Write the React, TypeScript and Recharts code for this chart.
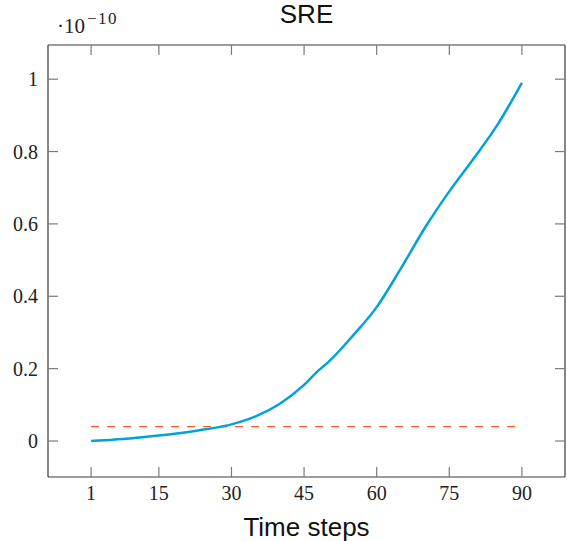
import { LineChart, Line, XAxis, YAxis, Label } from 'recharts';

const STEPS = [1, 5, 10, 15, 20, 25, 30, 35, 40, 45, 48, 50, 55, 60, 65, 70, 75, 80, 85, 90];
const SRE = [0, 0.003, 0.008, 0.015, 0.023, 0.033, 0.046, 0.068, 0.103, 0.155, 0.195, 0.218, 0.29, 0.37, 0.477, 0.59, 0.69, 0.78, 0.875, 0.99];
const THRESHOLD_STEPS = [1, 90];
const THRESHOLD_VALUES = [0.04, 0.04];
const X_TICKS = [1, 15, 30, 45, 60, 75, 90];
const Y_TICKS = [0, 0.2, 0.4, 0.6, 0.8, 1];

const AXIS_COLOR = '#3a3a3a';
const TICK_COLOR = '#7a7a7a';
const SERIF = '"Liberation Serif", "DejaVu Serif", serif';
const SANS = '"Liberation Sans", Arial, sans-serif';
const X_DOMAIN = [-7.9, 98.9];
const Y_DOMAIN = [-0.0995, 1.0945];

const data = STEPS.map((step, i) => ({ step, sre: SRE[i] }));
const thresholdData = THRESHOLD_STEPS.map((step, i) => ({ step, limit: THRESHOLD_VALUES[i] }));

// tick lines come from recharts (negative tickSize = inward), these only draw the labels
function BottomTick({ x, y, payload }: any) {
    return (
        <text x={x} y={y + 23} textAnchor="middle" fontFamily={SERIF} fontSize={20} fill="#222">
            {payload.value}
        </text>
    );
}

function LeftTick({ x, y, payload }: any) {
    return (
        <text x={x - 10} y={y + 7} textAnchor="end" fontFamily={SERIF} fontSize={20} fill="#222">
            {String(payload.value)}
        </text>
    );
}

function NoLabel() {
    return <g />;
}

const tickLine = { stroke: TICK_COLOR, strokeWidth: 1.2 };
const axisLine = { stroke: AXIS_COLOR, strokeWidth: 1.2 };

export default function App() {
    return (
        <div style={{ position: 'absolute', left: 0, top: 0, background: '#fff' }}>
            <LineChart width={567} height={541} margin={{ top: 44, right: 1, bottom: 0, left: 0 }}>
                <XAxis
                    xAxisId="bottom"
                    dataKey="step"
                    type="number"
                    domain={X_DOMAIN}
                    ticks={X_TICKS}
                    allowDataOverflow
                    height={64}
                    tickSize={-10}
                    tickMargin={10}
                    tickLine={tickLine}
                    tick={<BottomTick />}
                    axisLine={axisLine}
                >
                    <Label
                        content={({ viewBox }: any) => (
                            <text
                                x={viewBox.x + viewBox.width / 2}
                                y={viewBox.y + 59}
                                textAnchor="middle"
                                fontFamily={SANS}
                                fontSize={26}
                                fill="#111"
                            >
                                Time steps
                            </text>
                        )}
                    />
                </XAxis>
                <XAxis
                    xAxisId="top"
                    orientation="top"
                    dataKey="step"
                    type="number"
                    domain={X_DOMAIN}
                    ticks={X_TICKS}
                    allowDataOverflow
                    height={1}
                    tickSize={-10}
                    tickMargin={0}
                    tickLine={tickLine}
                    tick={<NoLabel />}
                    axisLine={axisLine}
                >
                    <Label
                        content={({ viewBox }: any) => (
                            <text
                                x={viewBox.x + viewBox.width / 2}
                                y={viewBox.y - 21}
                                textAnchor="middle"
                                fontFamily={SANS}
                                fontSize={26}
                                fill="#111"
                            >
                                SRE
                            </text>
                        )}
                    />
                </XAxis>
                <YAxis
                    yAxisId="left"
                    type="number"
                    domain={Y_DOMAIN}
                    ticks={Y_TICKS}
                    allowDataOverflow
                    width={48}
                    tickSize={-10}
                    tickMargin={10}
                    tickLine={tickLine}
                    tick={<LeftTick />}
                    axisLine={axisLine}
                >
                    <Label
                        content={({ viewBox }: any) => (
                            <text
                                x={viewBox.x + viewBox.width + 9}
                                y={viewBox.y - 12}
                                fontFamily={SERIF}
                                fontSize={21}
                                fill="#222"
                            >
                                ·10
                                <tspan dx={2} dy={-9} fontSize={17} letterSpacing={1.5}>−10</tspan>
                            </text>
                        )}
                    />
                </YAxis>
                <YAxis
                    yAxisId="right"
                    orientation="right"
                    type="number"
                    domain={Y_DOMAIN}
                    ticks={Y_TICKS}
                    allowDataOverflow
                    width={1}
                    tickSize={-10}
                    tickMargin={0}
                    tickLine={tickLine}
                    tick={<NoLabel />}
                    axisLine={axisLine}
                />
                <Line
                    xAxisId="bottom"
                    yAxisId="left"
                    data={thresholdData}
                    dataKey="limit"
                    type="linear"
                    stroke="#f2592f"
                    strokeWidth={1.2}
                    strokeDasharray="8 8"
                    dot={false}
                    isAnimationActive={false}
                />
                <Line
                    xAxisId="bottom"
                    yAxisId="left"
                    data={data}
                    dataKey="sre"
                    type="monotone"
                    stroke="#00a3d9"
                    strokeWidth={2.5}
                    dot={false}
                    isAnimationActive={false}
                />
            </LineChart>
        </div>
    );
}
